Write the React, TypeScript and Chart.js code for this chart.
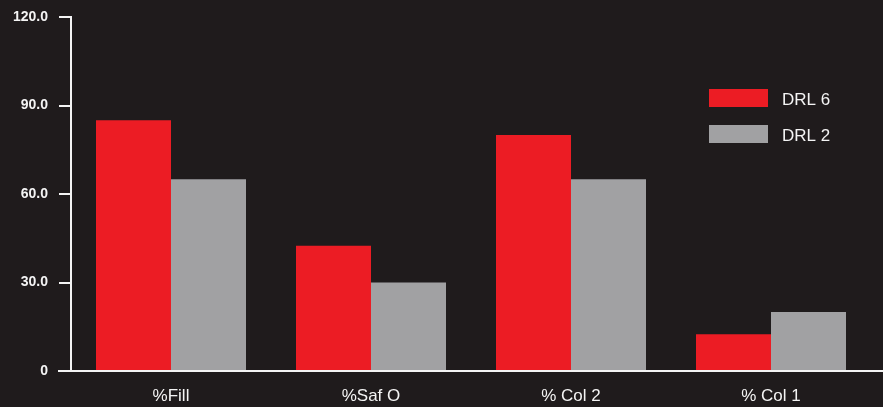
import React, { useEffect, useRef } from "react";
import { Chart, registerables } from "chart.js";

Chart.register(...registerables);

const categories = ["%Fill", "%Saf O", "% Col 2", "% Col 1"];
const drl6Values = [85, 42.5, 80, 12.5];
const drl2Values = [65, 30, 65, 20];
const seriesNames = ["DRL 6", "DRL 2"];
const yTicks = [0, 30, 60, 90, 120];

const BG = "#1f1b1c";
const RED = "#ec1c24";
const GRAY = "#a1a1a3";
const WHITE = "#f4f4f4";
const FAMILY = "'Liberation Sans', Arial, sans-serif";

export default function App() {
  const ref = useRef<HTMLCanvasElement | null>(null);

  useEffect(() => {
    if (!ref.current) return;
    const axisPlugin = {
      id: "customAxisLegend",
      afterDraw(chart: any) {
        const ctx = chart.ctx;
        const area = chart.chartArea;
        const y0 = chart.scales.y.getPixelForValue(0);
        ctx.save();
        ctx.strokeStyle = WHITE;
        ctx.lineWidth = 2;
        ctx.beginPath();
        ctx.moveTo(area.left - 13, y0);
        ctx.lineTo(chart.width, y0);
        ctx.stroke();
        // legend
        const lx = area.left + 638;
        const ly = y0 - 282;
        const colors = [RED, GRAY];
        ctx.font = "17px " + FAMILY;
        ctx.textBaseline = "middle";
        ctx.textAlign = "left";
        seriesNames.forEach((name, i) => {
          const yy = ly + i * 36;
          ctx.fillStyle = colors[i];
          ctx.fillRect(lx, yy, 59, 18);
          ctx.fillStyle = WHITE;
          ctx.fillText(name, lx + 73, yy + 11);
        });
        ctx.restore();
      },
    };

    const chart = new Chart(ref.current, {
      type: "bar",
      data: {
        labels: categories,
        datasets: [
          { label: seriesNames[0], data: drl6Values, backgroundColor: RED, borderWidth: 0 },
          { label: seriesNames[1], data: drl2Values, backgroundColor: GRAY, borderWidth: 0 },
        ],
      },
      options: {
        animation: false,
        responsive: true,
        maintainAspectRatio: false,
        layout: { padding: { top: 17, right: 12, left: 0, bottom: 0 } },
        datasets: { bar: { categoryPercentage: 0.75, barPercentage: 1.0 } },
        plugins: { legend: { display: false }, tooltip: { enabled: false } },
        scales: {
          x: {
            grid: { display: false, drawTicks: false },
            border: { display: false },
            ticks: {
              color: WHITE,
              padding: 15,
              font: { size: 17, family: FAMILY },
            },
            afterFit(scale: any) {
              scale.height = 36;
              scale.paddingLeft = 0;
              scale.paddingRight = 0;
            },
          },
          y: {
            min: 0,
            max: 120,
            afterBuildTicks(scale: any) {
              scale.ticks = yTicks.map((v) => ({ value: v }));
            },
            grid: {
              drawOnChartArea: false,
              drawTicks: true,
              tickLength: 12,
              color: WHITE,
              lineWidth: 2,
            },
            border: { display: true, color: WHITE, width: 2 },
            ticks: {
              color: WHITE,
              padding: 11,
              font: { size: 14, weight: "bold", family: FAMILY },
              callback: (v: any) => (Number(v) === 0 ? "0" : Number(v).toFixed(1)),
            },
            afterFit(scale: any) {
              scale.width = 71;
              scale.paddingTop = 0;
              scale.paddingBottom = 0;
            },
          },
        },
      },
      plugins: [axisPlugin],
    });
    return () => chart.destroy();
  }, []);

  return (
    <div
      style={{
        position: "absolute",
        left: 0,
        top: 0,
        width: 883,
        height: 407,
        background: BG,
      }}
    >
      <canvas ref={ref} />
    </div>
  );
}
